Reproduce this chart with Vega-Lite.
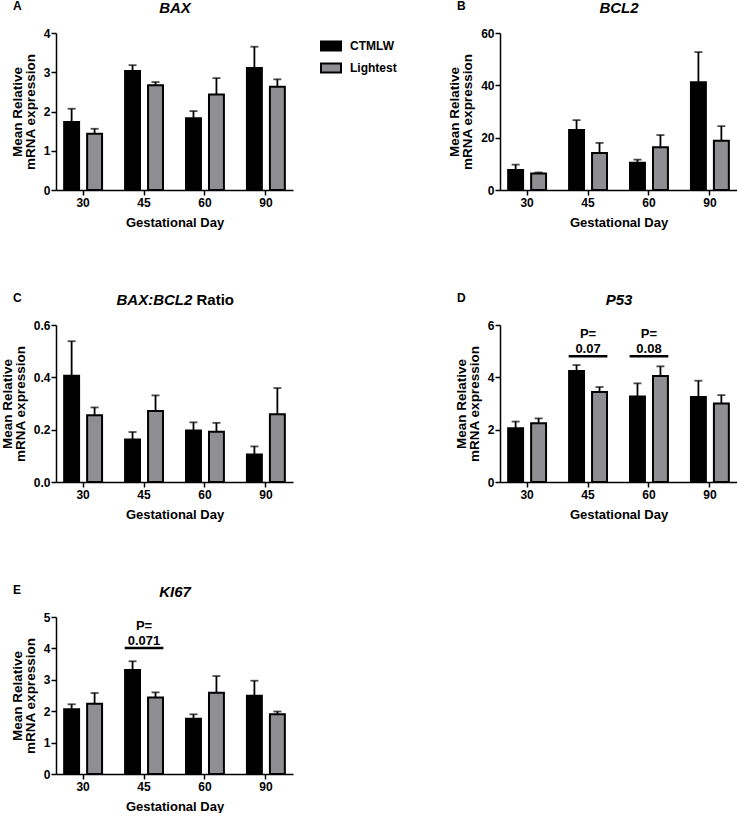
{
  "$schema": "https://vega.github.io/schema/vega-lite/v6.json",
  "background": "white",
  "padding": {"left": 0, "top": 0, "right": 0, "bottom": 0},
  "config": {
    "font": "Liberation Sans",
    "view": {"stroke": null},
    "axis": {"grid": false, "domainColor": "black", "domainWidth": 1.5, "tickColor": "black", "tickWidth": 1.5, "tickSize": 5, "labelFont": "Liberation Sans", "labelFontSize": 12, "labelFontWeight": "bold", "labelColor": "black", "labelPadding": 2, "titleFont": "Liberation Sans", "titleFontSize": 13, "titleFontWeight": "bold", "titleColor": "black"},
    "axisY": {"titlePadding": 6, "titleLineHeight": 13, "titleFontSize": 13.5, "labelPadding": 1},
    "axisX": {"titlePadding": 8, "labelAngle": 0},
    "title": {"font": "Liberation Sans", "fontSize": 12, "fontWeight": "bold", "color": "black", "anchor": "start", "frame": "group", "dx": -43, "dy": 0, "offset": -13, "baseline": "alphabetic"}
  },
  "datasets": {
    "bars": [
      {"panel": "A", "day": "30", "group": "CTMLW", "mean": 1.73, "hi": 2.07},
      {"panel": "A", "day": "30", "group": "Lightest", "mean": 1.43, "hi": 1.56},
      {"panel": "A", "day": "45", "group": "CTMLW", "mean": 3.03, "hi": 3.18},
      {"panel": "A", "day": "45", "group": "Lightest", "mean": 2.67, "hi": 2.75},
      {"panel": "A", "day": "60", "group": "CTMLW", "mean": 1.83, "hi": 2.01},
      {"panel": "A", "day": "60", "group": "Lightest", "mean": 2.43, "hi": 2.85},
      {"panel": "A", "day": "90", "group": "CTMLW", "mean": 3.11, "hi": 3.65},
      {"panel": "A", "day": "90", "group": "Lightest", "mean": 2.63, "hi": 2.82},
      {"panel": "B", "day": "30", "group": "CTMLW", "mean": 7.6, "hi": 9.7},
      {"panel": "B", "day": "30", "group": "Lightest", "mean": 6.3, "hi": 6.7},
      {"panel": "B", "day": "45", "group": "CTMLW", "mean": 22.9, "hi": 26.7},
      {"panel": "B", "day": "45", "group": "Lightest", "mean": 14.1, "hi": 18.0},
      {"panel": "B", "day": "60", "group": "CTMLW", "mean": 10.4, "hi": 11.6},
      {"panel": "B", "day": "60", "group": "Lightest", "mean": 16.3, "hi": 21.0},
      {"panel": "B", "day": "90", "group": "CTMLW", "mean": 41.2, "hi": 52.7},
      {"panel": "B", "day": "90", "group": "Lightest", "mean": 18.8, "hi": 24.4},
      {"panel": "C", "day": "30", "group": "CTMLW", "mean": 0.406, "hi": 0.538},
      {"panel": "C", "day": "30", "group": "Lightest", "mean": 0.255, "hi": 0.285},
      {"panel": "C", "day": "45", "group": "CTMLW", "mean": 0.162, "hi": 0.191},
      {"panel": "C", "day": "45", "group": "Lightest", "mean": 0.271, "hi": 0.331},
      {"panel": "C", "day": "60", "group": "CTMLW", "mean": 0.197, "hi": 0.228},
      {"panel": "C", "day": "60", "group": "Lightest", "mean": 0.192, "hi": 0.226},
      {"panel": "C", "day": "90", "group": "CTMLW", "mean": 0.105, "hi": 0.136},
      {"panel": "C", "day": "90", "group": "Lightest", "mean": 0.259, "hi": 0.359},
      {"panel": "D", "day": "30", "group": "CTMLW", "mean": 2.05, "hi": 2.31},
      {"panel": "D", "day": "30", "group": "Lightest", "mean": 2.25, "hi": 2.43},
      {"panel": "D", "day": "45", "group": "CTMLW", "mean": 4.24, "hi": 4.47},
      {"panel": "D", "day": "45", "group": "Lightest", "mean": 3.44, "hi": 3.63},
      {"panel": "D", "day": "60", "group": "CTMLW", "mean": 3.27, "hi": 3.77},
      {"panel": "D", "day": "60", "group": "Lightest", "mean": 4.05, "hi": 4.42},
      {"panel": "D", "day": "90", "group": "CTMLW", "mean": 3.25, "hi": 3.87},
      {"panel": "D", "day": "90", "group": "Lightest", "mean": 3.0, "hi": 3.32},
      {"panel": "E", "day": "30", "group": "CTMLW", "mean": 2.06, "hi": 2.22},
      {"panel": "E", "day": "30", "group": "Lightest", "mean": 2.24, "hi": 2.58},
      {"panel": "E", "day": "45", "group": "CTMLW", "mean": 3.31, "hi": 3.59},
      {"panel": "E", "day": "45", "group": "Lightest", "mean": 2.44, "hi": 2.6},
      {"panel": "E", "day": "60", "group": "CTMLW", "mean": 1.76, "hi": 1.9},
      {"panel": "E", "day": "60", "group": "Lightest", "mean": 2.59, "hi": 3.12},
      {"panel": "E", "day": "90", "group": "CTMLW", "mean": 2.49, "hi": 2.97},
      {"panel": "E", "day": "90", "group": "Lightest", "mean": 1.9, "hi": 1.99}
    ],
    "ann": [
      {"panel": "D", "day": "45", "val": 5.51, "label": "P="},
      {"panel": "D", "day": "45", "val": 4.94, "label": "0.07"},
      {"panel": "D", "day": "60", "val": 5.51, "label": "P="},
      {"panel": "D", "day": "60", "val": 4.94, "label": "0.08"},
      {"panel": "E", "day": "45", "val": 4.58, "label": "P="},
      {"panel": "E", "day": "45", "val": 4.1, "label": "0.071"}
    ],
    "sig": [
      {"panel": "D", "day": "45", "val": 4.81},
      {"panel": "D", "day": "60", "val": 4.81},
      {"panel": "E", "day": "45", "val": 4.01}
    ]
  },
  "columns": 2,
  "spacing": {"row": 63, "column": 48},
  "resolve": {"scale": {"color": "independent", "x": "independent", "y": "independent", "xOffset": "independent"}, "legend": {"color": "independent"}},
  "concat": [
    {
      "width": 237, "height": 157,
      "title": {"text": "A"},
      "resolve": {"axis": {"x": "independent", "y": "independent"}},
      "layer": [
        {"data": {"name": "bars"}, "transform": [{"filter": "datum.panel === 'A'"}],
         "mark": {"type": "bar", "stroke": "black", "strokeWidth": 2},
         "encoding": {
           "x": {"field": "day", "type": "nominal", "scale": {"paddingInner": 0.31, "paddingOuter": 0.1}, "axis": {"title": "Gestational Day"}},
           "xOffset": {"field": "group", "type": "nominal", "scale": {"paddingInner": 0.35, "paddingOuter": 0.09}},
           "y": {"field": "mean", "type": "quantitative", "scale": {"domain": [0, 4]}, "axis": {"values": [0, 1, 2, 3, 4], "title": ["Mean Relative", "mRNA expression"]}},
           "color": {"field": "group", "type": "nominal", "scale": {"domain": ["CTMLW", "Lightest"], "range": ["#000000", "#8e8e93"]},
             "legend": {"title": null, "orient": "right", "offset": 25, "padding": 2, "symbolType": "M-1,-0.45H1V0.45H-1Z", "symbolSize": 400, "symbolStrokeColor": "black", "symbolStrokeWidth": 2, "symbolOpacity": 1, "labelFont": "Liberation Sans", "labelFontSize": 12, "labelFontWeight": "bold", "labelColor": "black", "labelOffset": 8, "rowPadding": 2}}
         }},
        {"data": {"name": "bars"}, "transform": [{"filter": "datum.panel === 'A'"}],
         "mark": {"type": "rule", "color": "black", "strokeWidth": 1.8},
         "encoding": {
           "x": {"field": "day", "type": "nominal", "axis": {"orient": "top", "title": "BAX", "domain": false, "ticks": false, "labels": false, "titleFontSize": 15, "titleFontStyle": "italic", "titleY": -21, "titleBaseline": "alphabetic"}},
           "xOffset": {"field": "group", "type": "nominal"},
           "y": {"field": "mean", "type": "quantitative", "axis": null},
           "y2": {"field": "hi"}
         }},
        {"data": {"name": "bars"}, "transform": [{"filter": "datum.panel === 'A'"}],
         "mark": {"type": "tick", "color": "black", "size": 8, "thickness": 1.8},
         "encoding": {
           "x": {"field": "day", "type": "nominal", "axis": null},
           "xOffset": {"field": "group", "type": "nominal"},
           "y": {"field": "hi", "type": "quantitative", "axis": null}
         }}
      ]
    },
    {
      "width": 237, "height": 157,
      "title": {"text": "B"},
      "resolve": {"axis": {"x": "independent", "y": "independent"}},
      "layer": [
        {"data": {"name": "bars"}, "transform": [{"filter": "datum.panel === 'B'"}],
         "mark": {"type": "bar", "stroke": "black", "strokeWidth": 2},
         "encoding": {
           "x": {"field": "day", "type": "nominal", "scale": {"paddingInner": 0.31, "paddingOuter": 0.1}, "axis": {"title": "Gestational Day"}},
           "xOffset": {"field": "group", "type": "nominal", "scale": {"paddingInner": 0.35, "paddingOuter": 0.09}},
           "y": {"field": "mean", "type": "quantitative", "scale": {"domain": [0, 60]}, "axis": {"values": [0, 20, 40, 60], "title": ["Mean Relative", "mRNA expression"]}},
           "color": {"field": "group", "type": "nominal", "scale": {"domain": ["CTMLW", "Lightest"], "range": ["#000000", "#8e8e93"]}, "legend": null}
         }},
        {"data": {"name": "bars"}, "transform": [{"filter": "datum.panel === 'B'"}],
         "mark": {"type": "rule", "color": "black", "strokeWidth": 1.8},
         "encoding": {
           "x": {"field": "day", "type": "nominal", "axis": {"orient": "top", "title": "BCL2", "domain": false, "ticks": false, "labels": false, "titleFontSize": 15, "titleFontStyle": "italic", "titleY": -21, "titleBaseline": "alphabetic"}},
           "xOffset": {"field": "group", "type": "nominal"},
           "y": {"field": "mean", "type": "quantitative", "axis": null},
           "y2": {"field": "hi"}
         }},
        {"data": {"name": "bars"}, "transform": [{"filter": "datum.panel === 'B'"}],
         "mark": {"type": "tick", "color": "black", "size": 8, "thickness": 1.8},
         "encoding": {
           "x": {"field": "day", "type": "nominal", "axis": null},
           "xOffset": {"field": "group", "type": "nominal"},
           "y": {"field": "hi", "type": "quantitative", "axis": null}
         }}
      ]
    },
    {
      "width": 237, "height": 157,
      "title": {"text": "C"},
      "resolve": {"axis": {"x": "independent", "y": "independent"}},
      "layer": [
        {"data": {"name": "bars"}, "transform": [{"filter": "datum.panel === 'C'"}],
         "mark": {"type": "bar", "stroke": "black", "strokeWidth": 2},
         "encoding": {
           "x": {"field": "day", "type": "nominal", "scale": {"paddingInner": 0.31, "paddingOuter": 0.1}, "axis": {"title": "Gestational Day"}},
           "xOffset": {"field": "group", "type": "nominal", "scale": {"paddingInner": 0.35, "paddingOuter": 0.09}},
           "y": {"field": "mean", "type": "quantitative", "scale": {"domain": [0, 0.6]}, "axis": {"values": [0, 0.2, 0.4, 0.6], "format": ".1f", "title": ["Mean Relative", "mRNA expression"]}},
           "color": {"field": "group", "type": "nominal", "scale": {"domain": ["CTMLW", "Lightest"], "range": ["#000000", "#8e8e93"]}, "legend": null}
         }},
        {"data": {"name": "bars"}, "transform": [{"filter": "datum.panel === 'C'"}],
         "mark": {"type": "rule", "color": "black", "strokeWidth": 1.8},
         "encoding": {
           "x": {"field": "day", "type": "nominal", "axis": {"orient": "top", "title": "BAX:BCL2", "domain": false, "ticks": false, "labels": false, "titleFontSize": 15, "titleFontStyle": "italic", "titleX": 60, "titleY": -21, "titleAlign": "left", "titleAnchor": "start", "titleBaseline": "alphabetic"}},
           "xOffset": {"field": "group", "type": "nominal"},
           "y": {"field": "mean", "type": "quantitative", "axis": null},
           "y2": {"field": "hi"}
         }},
        {"data": {"name": "bars"}, "transform": [{"filter": "datum.panel === 'C'"}],
         "mark": {"type": "tick", "color": "black", "size": 8, "thickness": 1.8},
         "encoding": {
           "x": {"field": "day", "type": "nominal", "axis": null},
           "xOffset": {"field": "group", "type": "nominal"},
           "y": {"field": "hi", "type": "quantitative", "axis": {"orient": "right", "title": "Ratio", "domain": false, "ticks": false, "labels": false, "titleAngle": 0, "titleX": -97, "titleY": -21, "titleAlign": "left", "titleAnchor": "start", "titleBaseline": "alphabetic", "titleFontSize": 15, "titleFontStyle": "normal", "titleLineHeight": 15}}
         }}
      ]
    },
    {
      "width": 237, "height": 157,
      "title": {"text": "D"},
      "resolve": {"axis": {"x": "independent", "y": "independent"}},
      "layer": [
        {"data": {"name": "bars"}, "transform": [{"filter": "datum.panel === 'D'"}],
         "mark": {"type": "bar", "stroke": "black", "strokeWidth": 2},
         "encoding": {
           "x": {"field": "day", "type": "nominal", "scale": {"paddingInner": 0.31, "paddingOuter": 0.1}, "axis": {"title": "Gestational Day"}},
           "xOffset": {"field": "group", "type": "nominal", "scale": {"paddingInner": 0.35, "paddingOuter": 0.09}},
           "y": {"field": "mean", "type": "quantitative", "scale": {"domain": [0, 6]}, "axis": {"values": [0, 2, 4, 6], "title": ["Mean Relative", "mRNA expression"]}},
           "color": {"field": "group", "type": "nominal", "scale": {"domain": ["CTMLW", "Lightest"], "range": ["#000000", "#8e8e93"]}, "legend": null}
         }},
        {"data": {"name": "bars"}, "transform": [{"filter": "datum.panel === 'D'"}],
         "mark": {"type": "rule", "color": "black", "strokeWidth": 1.8},
         "encoding": {
           "x": {"field": "day", "type": "nominal", "axis": {"orient": "top", "title": "P53", "domain": false, "ticks": false, "labels": false, "titleFontSize": 15, "titleFontStyle": "italic", "titleY": -21, "titleBaseline": "alphabetic"}},
           "xOffset": {"field": "group", "type": "nominal"},
           "y": {"field": "mean", "type": "quantitative", "axis": null},
           "y2": {"field": "hi"}
         }},
        {"data": {"name": "bars"}, "transform": [{"filter": "datum.panel === 'D'"}],
         "mark": {"type": "tick", "color": "black", "size": 8, "thickness": 1.8},
         "encoding": {
           "x": {"field": "day", "type": "nominal", "axis": null},
           "xOffset": {"field": "group", "type": "nominal"},
           "y": {"field": "hi", "type": "quantitative", "axis": null}
         }},
        {"data": {"name": "ann"}, "transform": [{"filter": "datum.panel === 'D'"}],
         "mark": {"type": "text", "font": "Liberation Sans", "fontSize": 13, "fontWeight": "bold", "color": "black", "baseline": "alphabetic"},
         "encoding": {
           "x": {"field": "day", "type": "nominal", "axis": null},
           "y": {"field": "val", "type": "quantitative", "axis": null},
           "text": {"field": "label"}
         }},
        {"data": {"name": "sig"}, "transform": [{"filter": "datum.panel === 'D'"}],
         "mark": {"type": "rule", "color": "black", "strokeWidth": 2.5},
         "encoding": {
           "x": {"field": "day", "type": "nominal", "bandPosition": 0.04, "axis": null},
           "x2": {"field": "day", "bandPosition": 0.96},
           "y": {"field": "val", "type": "quantitative", "axis": null}
         }}
      ]
    },
    {
      "width": 237, "height": 157,
      "title": {"text": "E"},
      "resolve": {"axis": {"x": "independent", "y": "independent"}},
      "layer": [
        {"data": {"name": "bars"}, "transform": [{"filter": "datum.panel === 'E'"}],
         "mark": {"type": "bar", "stroke": "black", "strokeWidth": 2},
         "encoding": {
           "x": {"field": "day", "type": "nominal", "scale": {"paddingInner": 0.31, "paddingOuter": 0.1}, "axis": {"title": "Gestational Day"}},
           "xOffset": {"field": "group", "type": "nominal", "scale": {"paddingInner": 0.35, "paddingOuter": 0.09}},
           "y": {"field": "mean", "type": "quantitative", "scale": {"domain": [0, 5]}, "axis": {"values": [0, 1, 2, 3, 4, 5], "title": ["Mean Relative", "mRNA expression"]}},
           "color": {"field": "group", "type": "nominal", "scale": {"domain": ["CTMLW", "Lightest"], "range": ["#000000", "#8e8e93"]}, "legend": null}
         }},
        {"data": {"name": "bars"}, "transform": [{"filter": "datum.panel === 'E'"}],
         "mark": {"type": "rule", "color": "black", "strokeWidth": 1.8},
         "encoding": {
           "x": {"field": "day", "type": "nominal", "axis": {"orient": "top", "title": "KI67", "domain": false, "ticks": false, "labels": false, "titleFontSize": 15, "titleFontStyle": "italic", "titleY": -21, "titleBaseline": "alphabetic"}},
           "xOffset": {"field": "group", "type": "nominal"},
           "y": {"field": "mean", "type": "quantitative", "axis": null},
           "y2": {"field": "hi"}
         }},
        {"data": {"name": "bars"}, "transform": [{"filter": "datum.panel === 'E'"}],
         "mark": {"type": "tick", "color": "black", "size": 8, "thickness": 1.8},
         "encoding": {
           "x": {"field": "day", "type": "nominal", "axis": null},
           "xOffset": {"field": "group", "type": "nominal"},
           "y": {"field": "hi", "type": "quantitative", "axis": null}
         }},
        {"data": {"name": "ann"}, "transform": [{"filter": "datum.panel === 'E'"}],
         "mark": {"type": "text", "font": "Liberation Sans", "fontSize": 13, "fontWeight": "bold", "color": "black", "baseline": "alphabetic"},
         "encoding": {
           "x": {"field": "day", "type": "nominal", "axis": null},
           "y": {"field": "val", "type": "quantitative", "axis": null},
           "text": {"field": "label"}
         }},
        {"data": {"name": "sig"}, "transform": [{"filter": "datum.panel === 'E'"}],
         "mark": {"type": "rule", "color": "black", "strokeWidth": 2.5},
         "encoding": {
           "x": {"field": "day", "type": "nominal", "bandPosition": 0.04, "axis": null},
           "x2": {"field": "day", "bandPosition": 0.96},
           "y": {"field": "val", "type": "quantitative", "axis": null}
         }}
      ]
    }
  ]
}
